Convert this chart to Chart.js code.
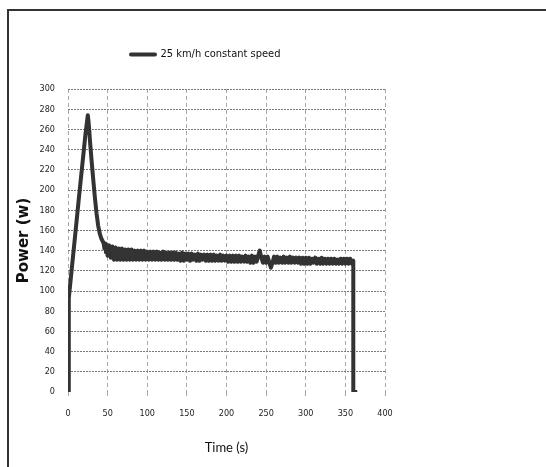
<!DOCTYPE html>
<html>
<head>
<meta charset="utf-8">
<script src="https://cdn.jsdelivr.net/npm/chart.js@4/dist/chart.umd.min.js"></script>
<style>
  html, body { margin: 0; padding: 0; background: #fff; overflow: hidden; }
  #frame { position: absolute; left: 7px; top: 9px; width: 600px; height: 520px; border: 2px solid #333; }
  #powerChart { position: absolute; left: 0; top: 0; }
</style>
</head>
<body>
<div id="frame"></div>
<canvas id="powerChart" width="546" height="467"></canvas>
<script>
// Tick labels
const xTicks = [0, 50, 100, 150, 200, 250, 300, 350, 400];
const yTicks = [0, 20, 40, 60, 80, 100, 120, 140, 160, 180, 200, 220, 240, 260, 280, 300];

// Time (s) readings
const timeSec = [
    0, 1, 9, 14, 22, 25, 26, 27, 28, 30, 32, 34, 36, 38, 40, 42, 44, 45, 46, 47, 48, 49,
    50, 52, 54, 56, 58, 60, 62, 64, 66, 68, 70, 72, 74, 76, 78, 80, 82, 84, 86, 88, 90, 92, 94, 96, 98,
    100, 102, 104, 106, 108, 110, 112, 114, 116, 118, 120, 122, 124, 126, 128, 130, 132, 134, 136, 138, 140, 142, 144, 146, 148,
    150, 152, 154, 156, 158, 160, 162, 164, 166, 168, 170, 172, 174, 176, 178, 180, 182, 184, 186, 188, 190, 192, 194, 196, 198,
    200, 202, 204, 206, 208, 210, 212, 214, 216, 218, 220, 222, 224, 226, 228, 230, 232, 234, 236, 238, 240, 242, 244, 246, 248,
    250, 252, 254, 256, 258, 260, 262, 264, 266, 268, 270, 272, 274, 276, 278, 280, 282, 284, 286, 288, 290, 292, 294, 296, 298,
    300, 302, 304, 306, 308, 310, 312, 314, 316, 318, 320, 322, 324, 326, 328, 330, 332, 334, 336, 338, 340, 342, 344, 346, 348,
    350, 352, 354, 356, 358, 360, 360, 365
];

// Power (w) readings, 25 km/h constant speed
const powerW = [
    0, 93, 155, 194, 255, 274, 267, 257, 246, 227, 209, 192, 177, 165, 157, 152, 149, 147, 142, 147, 138, 146,
    135, 145, 133, 144, 131, 143, 131, 142, 131, 142, 131, 141, 131, 141, 131, 141, 131, 140, 131, 140, 131, 140, 131, 140, 131,
    139, 131, 139, 131, 139, 131, 139, 131, 138, 131, 139, 131, 138, 131, 138, 131, 138, 131, 138, 131, 137, 130, 138, 130, 137,
    131, 137, 130, 137, 131, 136, 130, 137, 130, 136, 131, 136, 130, 136, 130, 136, 130, 136, 130, 135, 130, 136, 130, 135, 130,
    135, 129, 135, 129, 135, 129, 135, 129, 135, 129, 134, 129, 135, 129, 134, 128, 135, 128, 134, 129, 135, 140, 133, 128, 134,
    128, 134, 128, 123, 128, 134, 128, 134, 128, 133, 128, 134, 128, 133, 128, 134, 128, 133, 128, 133, 128, 133, 127, 133, 127,
    133, 127, 133, 127, 132, 128, 133, 127, 132, 127, 133, 127, 132, 127, 132, 127, 132, 127, 132, 127, 131, 127, 132, 127, 132,
    127, 132, 127, 132, 127, 130, 0, 0
];

const seriesLabel = '25 km/h constant speed';

// Legend sits left of centre, above the plot
const legendPlacer = {
    id: 'legendPlacer',
    afterLayout(chart) {
        const lg = chart.legend;
        const w = lg.width, h = lg.height;
        lg.left = 121;
        lg.top = 39;
        lg.right = lg.left + w;
        lg.bottom = lg.top + h;
    }
};

const points = timeSec.map((t, i) => ({ x: t, y: powerW[i] }));
const narrow = '"Liberation Sans Narrow", "DejaVu Sans Condensed", sans-serif';

const ctx = document.getElementById('powerChart').getContext('2d');
new Chart(ctx, {
    type: 'line',
    data: {
        datasets: [{
            label: seriesLabel,
            data: points,
            borderColor: '#333333',
            backgroundColor: '#333333',
            borderWidth: 4,
            borderJoinStyle: 'round',
            borderCapStyle: 'butt',
            pointRadius: 0,
            tension: 0,
            fill: false
        }]
    },
    options: {
        responsive: false,
        animation: false,
        devicePixelRatio: 1,
        layout: { padding: { left: 8, right: 161, top: 58, bottom: 4 } },
        plugins: {
            legend: {
                display: true,
                position: 'top',
                align: 'start',
                labels: {
                    boxWidth: 24,
                    boxHeight: 0,
                    padding: 10,
                    color: '#111',
                    font: { family: narrow, size: 11 }
                }
            },
            tooltip: { enabled: false }
        },
        scales: {
            x: {
                type: 'linear',
                min: 0,
                max: 400,
                afterBuildTicks: (scale) => { scale.ticks = xTicks.map(v => ({ value: v })); },
                afterFit: (scale) => { scale.height = 71; },
                border: { display: false, dash: [4, 3] },
                grid: {
                    color: '#a8a8a8',
                    lineWidth: 1,
                    drawTicks: true,
                    tickLength: 5,
                    tickColor: '#a8a8a8',
                    tickBorderDash: [4, 3]
                },
                ticks: {
                    padding: 11,
                    maxRotation: 0,
                    color: '#222',
                    font: { family: narrow, size: 9 }
                },
                title: {
                    display: true,
                    text: 'Time (s)',
                    color: '#111',
                    padding: { top: 0, bottom: 7 },
                    font: { family: 'Lato, "Open Sans", sans-serif', size: 13 }
                }
            },
            y: {
                min: 0,
                max: 300,
                afterBuildTicks: (scale) => { scale.ticks = yTicks.map(v => ({ value: v })); },
                afterFit: (scale) => { scale.width = 60; },
                border: { display: false, dash: [2, 1] },
                grid: {
                    color: (c) => c.tick && c.tick.value === 0 ? 'rgba(0,0,0,0)' : '#7a7a7a',
                    lineWidth: 1,
                    drawTicks: false
                },
                ticks: {
                    padding: 13,
                    color: '#222',
                    font: { family: narrow, size: 9 }
                },
                title: {
                    display: true,
                    text: 'Power (w)',
                    color: '#111',
                    padding: { top: 7, bottom: 0 },
                    font: { family: '"DejaVu Sans", Verdana, sans-serif', size: 15, weight: 'bold' }
                }
            }
        }
    },
    plugins: [legendPlacer]
});
</script>
</body>
</html>
